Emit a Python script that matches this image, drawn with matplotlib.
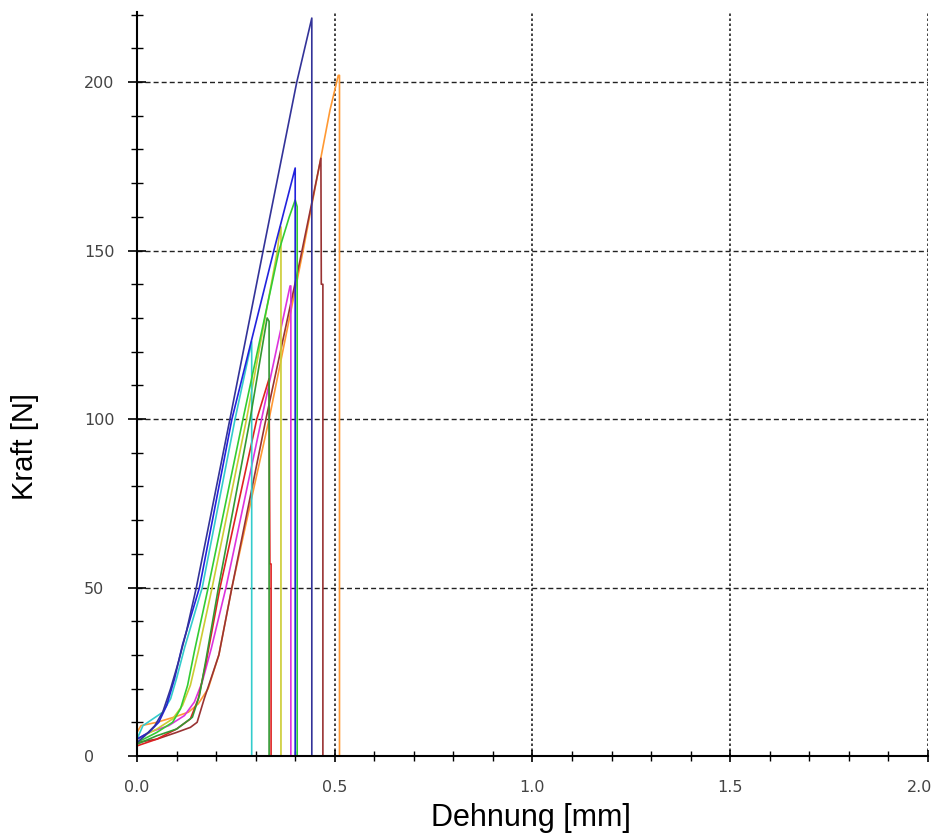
import matplotlib
matplotlib.use("Agg")
import matplotlib.pyplot as plt
from matplotlib.ticker import MultipleLocator, FixedLocator
from matplotlib.transforms import ScaledTranslation

# ---- data (Dehnung [mm], Kraft [N]) ----
x_orange = [0, 0.01, 0.05, 0.093, 0.13, 0.155, 0.18, 0.207, 0.24, 0.334, 0.42, 0.488, 0.509, 0.512, 0.512, 2.0]
y_orange = [7, 9, 10, 11.5, 13, 15.5, 20, 30, 50, 100, 150, 191.7, 202, 202, 0, 0]

x_brown = [0, 0.05, 0.1, 0.135, 0.152, 0.17, 0.19, 0.207, 0.24, 0.326, 0.412, 0.465, 0.466, 0.470, 0.470, 2.0]
y_brown = [4, 5, 7, 8.5, 10, 17, 24, 30, 50, 100, 147, 177.4, 140, 140, 0, 0]

x_magenta = [0, 0.03, 0.08, 0.12, 0.145, 0.165, 0.188, 0.225, 0.315, 0.387, 0.389, 0.389, 2.0]
y_magenta = [5, 7, 9, 12, 16, 22, 32, 50, 100, 139.5, 139.5, 0, 0]

x_yellow = [0, 0.05, 0.09, 0.115, 0.135, 0.155, 0.19, 0.277, 0.355, 0.362, 0.364, 0.364, 2.0]
y_yellow = [5, 8, 11, 15, 21, 31, 50, 100, 150, 157, 157, 0, 0]

x_red = [0, 0.05, 0.1, 0.135, 0.155, 0.175, 0.21, 0.303, 0.334, 0.336, 0.339, 0.339, 2.0]
y_red = [3, 5, 8, 11, 17, 28, 50, 100, 112, 57, 57, 0, 0]

x_cyan = [0, 0.015, 0.04, 0.065, 0.085, 0.1, 0.12, 0.165, 0.248, 0.29, 0.29, 2.0]
y_cyan = [5, 9, 11, 13, 17, 23, 32, 50, 100, 123, 0, 0]

x_green = [0, 0.05, 0.09, 0.11, 0.128, 0.145, 0.18, 0.268, 0.359, 0.385, 0.40, 0.405, 0.405, 2.0]
y_green = [4, 7, 10, 14, 21, 31, 50, 100, 150, 160, 165, 163, 0, 0]

x_darkgreen = [0, 0.05, 0.1, 0.14, 0.158, 0.175, 0.206, 0.286, 0.329, 0.334, 0.334, 2.0]
y_darkgreen = [3.5, 6, 8, 11.5, 18, 29, 50, 100, 130, 129, 0, 0]

x_blue = [0, 0.03, 0.055, 0.075, 0.095, 0.115, 0.158, 0.24, 0.346, 0.40, 0.40, 2.0]
y_blue = [5, 7, 10, 15, 23, 33, 50, 100, 150, 174.5, 0, 0]

x_navy = [0, 0.02, 0.045, 0.065, 0.085, 0.105, 0.125, 0.15, 0.235, 0.319, 0.404, 0.442, 0.442, 2.0]
y_navy = [4, 6, 9, 13, 20, 28, 37, 50, 100, 150, 200, 219, 0, 0]

x_major_ticks = [0.0, 0.5, 1.0, 1.5, 2.0]
x_tick_labels = ["0.0", "0.5", "1.0", "1.5", "2.0"]
y_major_ticks = [0, 50, 100, 150, 200]
y_tick_labels = ["0", "50", "100", "150", "200"]

series = [
    (x_orange, y_orange, "#FF9933"),
    (x_brown, y_brown, "#993333"),
    (x_magenta, y_magenta, "#DD33DD"),
    (x_yellow, y_yellow, "#CCCC33"),
    (x_red, y_red, "#DD2222"),
    (x_cyan, y_cyan, "#33CCCC"),
    (x_green, y_green, "#33CC33"),
    (x_darkgreen, y_darkgreen, "#339933"),
    (x_blue, y_blue, "#2222DD"),
    (x_navy, y_navy, "#333399"),
]

fig = plt.figure(figsize=(9.37, 8.34), dpi=100)
ax = fig.add_axes([137 / 937, 1 - 756 / 834, (928 - 137) / 937, (756 - 12) / 834])

ax.set_xlim(0, 2.0)
ax.set_ylim(0, 220.8)

# grid
for yv in [50, 100, 150, 200]:
    ax.axhline(yv, color="#222222", lw=1.0, linestyle=(0, (3.6, 2.2)), zorder=1)
for xv in [0.5, 1.0, 1.5, 2.0]:
    ax.axvline(xv, color="#222222", lw=1.2, linestyle=(0, (1.5, 1.5)), zorder=1)

for xs, ys, c in series:
    ax.plot(xs, ys, color=c, lw=1.2, zorder=3)

for side in ["top", "right"]:
    ax.spines[side].set_visible(False)
for side in ["left", "bottom"]:
    ax.spines[side].set_linewidth(1.5)
    ax.spines[side].set_color("black")
    ax.spines[side].set_zorder(4)

ax.xaxis.set_major_locator(FixedLocator(x_major_ticks))
ax.set_xticklabels(x_tick_labels)
ax.xaxis.set_minor_locator(MultipleLocator(0.1))
ax.yaxis.set_major_locator(FixedLocator(y_major_ticks))
ax.set_yticklabels(y_tick_labels)
ax.yaxis.set_minor_locator(MultipleLocator(10))

ax.tick_params(axis="x", which="major", direction="inout", length=9, width=1.2,
               pad=12.5, labelsize=11.5, labelcolor="#444444")
ax.tick_params(axis="x", which="minor", direction="inout", length=7, width=1.0)
ax.tick_params(axis="y", which="major", direction="inout", length=13, width=1.2,
               pad=31.5, labelsize=11.5, labelcolor="#444444")
ax.tick_params(axis="y", which="minor", direction="inout", length=8.5, width=1.0)
for lab in ax.get_yticklabels():
    lab.set_horizontalalignment("left")
# keep the last x label inside the canvas
xl = ax.get_xticklabels()
xl[-1].set_transform(xl[-1].get_transform() + ScaledTranslation(-8 / 100, 0, fig.dpi_scale_trans))

ax.set_facecolor("white")
fig.patch.set_facecolor("white")

fig.text(531 / 937, 1 - 818 / 834, "Dehnung [mm]", ha="center", va="center",
         fontsize=22, family="Liberation Sans", color="black")
fig.text(25 / 937, 1 - 447 / 834, "Kraft [N]", ha="center", va="center",
         rotation=90, fontsize=21, family="Liberation Sans", color="black")

fig.savefig("out.png", dpi=100)
